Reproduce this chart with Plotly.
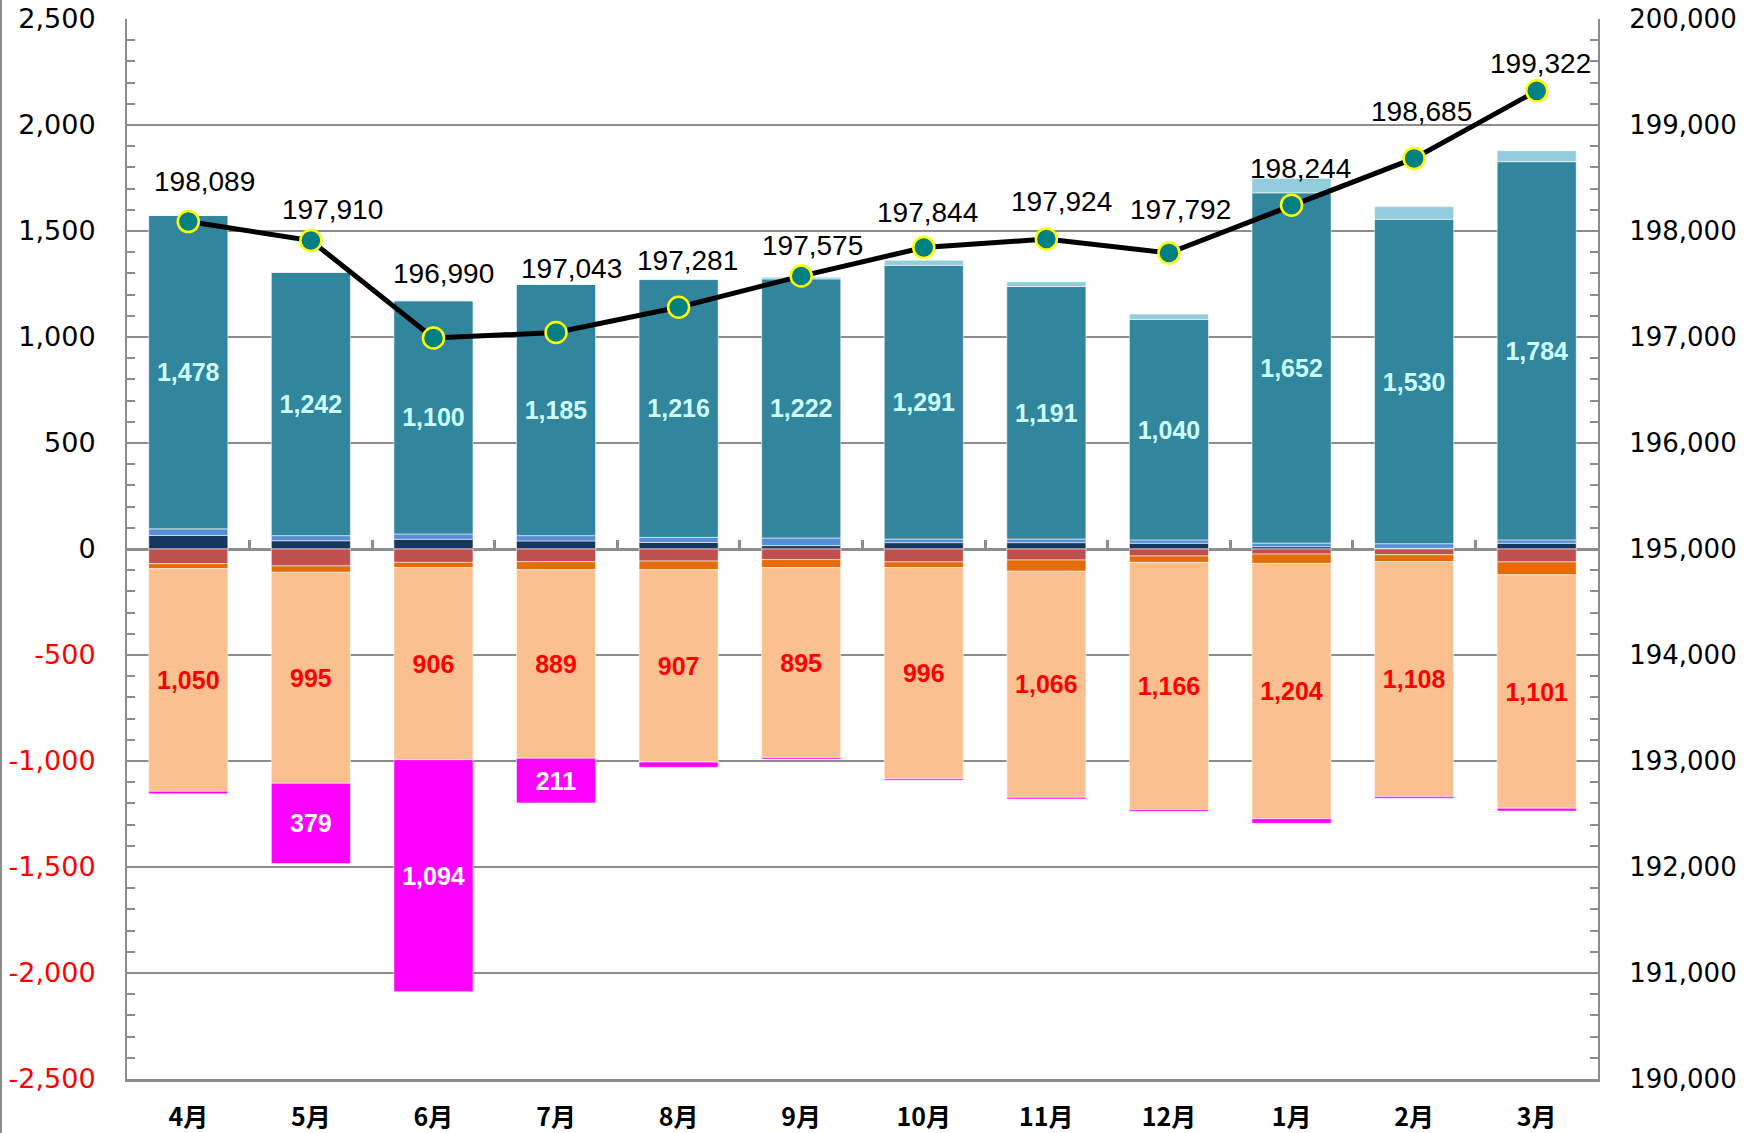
import plotly.graph_objects as go

months = ["4月", "5月", "6月", "7月", "8月", "9月", "10月", "11月", "12月", "1月", "2月", "3月"]

# increases (stacked upward)
inc_a = [64, 39, 46, 38, 31, 16, 30, 30, 27, 11, 3, 27]          # navy
inc_b = [31, 24, 25, 25, 24, 36, 17, 17, 16, 17, 22, 16]         # blue
inc_c = [1478, 1242, 1100, 1185, 1216, 1222, 1291, 1191, 1040, 1652, 1530, 1784]  # teal
inc_d = [0, 0, 0, 0, 3, 8, 24, 23, 25, 68, 60, 52]              # light blue

# decreases (stacked downward)
dec_a = [-69, -80, -63, -60, -57, -50, -61, -52, -33, -24, -27, -61]     # red
dec_b = [-24, -30, -25, -38, -41, -38, -27, -53, -30, -44, -33, -61]     # orange
dec_c = [-1050, -995, -906, -889, -907, -895, -996, -1066, -1166, -1204, -1108, -1101]  # peach
dec_d = [-12, -379, -1094, -211, -25, -8, -7, -8, -8, -22, -8, -13]     # magenta

population = [198089, 197910, 196990, 197043, 197281, 197575, 197844, 197924, 197792, 198244, 198685, 199322]

# label offsets (px) for the population labels
lab_dx = [16, 22, 10, 15, 9, 11, 4, 15, 12, 9, 7, 4]
lab_dy = [40, 31, 65, 64, 47, 31, 35, 38, 44, 37, 47, 27]

GRAY = "#8c8c8c"
L, R, T, B = 127, 154, 19, 54
W, H = 1752, 1133
PW, PH = W - L - R, H - T - B

fig = go.Figure()

bar_line = dict(color="rgba(255,255,255,0.55)", width=1)
label_font = "Liberation Sans"

def add_bar(name, vals, color, text=None, tcolor="white"):
    fig.add_trace(go.Bar(
        x=months, y=vals, name=name,
        marker=dict(color=color, line=bar_line),
        text=text, textposition="inside" if text else None,
        insidetextanchor="middle", textangle=0,
        textfont=dict(family=label_font, size=25, color=tcolor, weight="bold"),
        constraintext="none", cliponaxis=False, showlegend=False,
    ))

add_bar("出生", inc_a, "#17375E")
add_bar("その他増", inc_b, "#558ED5")
add_bar("転入", inc_c, "#31859C", [f"{v:,}" for v in inc_c], "#CCFFFF")
add_bar("職権記載等", inc_d, "#93CDDD")
add_bar("死亡", dec_a, "#C0504D")
add_bar("その他減", dec_b, "#E46C0A")
add_bar("転出", dec_c, "#FAC090", [f"{abs(v):,}" for v in dec_c], "#FF0000")
add_bar("職権消除等", dec_d, "#FF00FF", [f"{abs(v):,}" if abs(v) > 100 else "" for v in dec_d], "white")

fig.add_trace(go.Scatter(
    x=months, y=population, yaxis="y2", mode="lines+markers", name="人口",
    line=dict(color="black", width=5),
    marker=dict(size=21, color="#008080", line=dict(color="#FFFF00", width=2.5)),
    showlegend=False, cliponaxis=False,
))

# dummy trace for the zero-line tick axis
fig.add_trace(go.Scatter(x=months, y=inc_c, xaxis="x2", mode="markers",
                         marker=dict(opacity=0), showlegend=False, hoverinfo="skip"))

for m, p, dx, dy in zip(months, population, lab_dx, lab_dy):
    fig.add_annotation(x=m, y=p, yref="y2", text=f"{p:,}", showarrow=False,
                       xshift=dx, yshift=dy,
                       font=dict(family=label_font, size=28, color="black"))

yvals = list(range(-2500, 2501, 500))
ytext = [f"{v:,}" if v >= 0 else f"<span style='color:#FF0000'>{v:,}</span>" for v in yvals]
y2vals = list(range(190000, 200001, 1000))

fig.update_layout(
    width=W, height=H,
    margin=dict(l=L, r=R, t=T, b=B, autoexpand=False),
    paper_bgcolor="white", plot_bgcolor="white",
    barmode="relative", bargap=0.355,
    xaxis=dict(type="category", categoryorder="array", categoryarray=months,
               range=[-0.5, 11.5], showline=True, linecolor=GRAY, linewidth=2.5,
               ticks="", showgrid=False, ticklabelstandoff=14, automargin=False,
               tickfont=dict(family="Noto Sans CJK JP", size=25, color="black", weight="bold")),
    xaxis2=dict(type="category", categoryorder="array", categoryarray=months,
                range=[-0.5, 11.5], overlaying="x", anchor="free", position=0.5,
                side="bottom", ticks="inside", tickson="boundaries", ticklen=9,
                tickwidth=2.5, tickcolor=GRAY, showticklabels=False, automargin=False,
                showgrid=False, showline=False),
    yaxis=dict(range=[-2500, 2500], tickvals=yvals, ticktext=ytext, automargin=False,
               tickfont=dict(family="DejaVu Sans", size=27, color="black"),
               ticks="inside", ticklen=8, tickwidth=2, tickcolor=GRAY,
               minor=dict(dtick=100, tick0=0, ticks="inside", ticklen=8, tickwidth=2,
                          tickcolor=GRAY, showgrid=False),
               showline=True, linecolor=GRAY, linewidth=2,
               showgrid=True, gridcolor=GRAY, gridwidth=1.5,
               zeroline=True, zerolinecolor=GRAY, zerolinewidth=2.5,
               ticklabelstandoff=24),
    yaxis2=dict(range=[190000, 200000], overlaying="y", side="right", anchor="x",
                tickvals=y2vals, ticktext=[f"{v:,}" for v in y2vals], automargin=False,
                tickfont=dict(family="DejaVu Sans", size=26, color="black"),
                ticks="inside", ticklen=8, tickwidth=2, tickcolor=GRAY,
                minor=dict(dtick=200, tick0=190000, ticks="inside", ticklen=8, tickwidth=2,
                           tickcolor=GRAY, showgrid=False),
                showline=True, linecolor=GRAY, linewidth=2, showgrid=False,
                zeroline=False, ticklabelstandoff=24),
)

# chart frame edge on the far left
fig.add_shape(type="line", xref="paper", yref="paper",
              x0=-(L - 1) / PW, x1=-(L - 1) / PW, y0=-B / PH, y1=1 + T / PH,
              line=dict(color=GRAY, width=2))

fig.write_html("out.html", config={"displayModeBar": False},
               post_script="document.body.style.margin='0px';")
